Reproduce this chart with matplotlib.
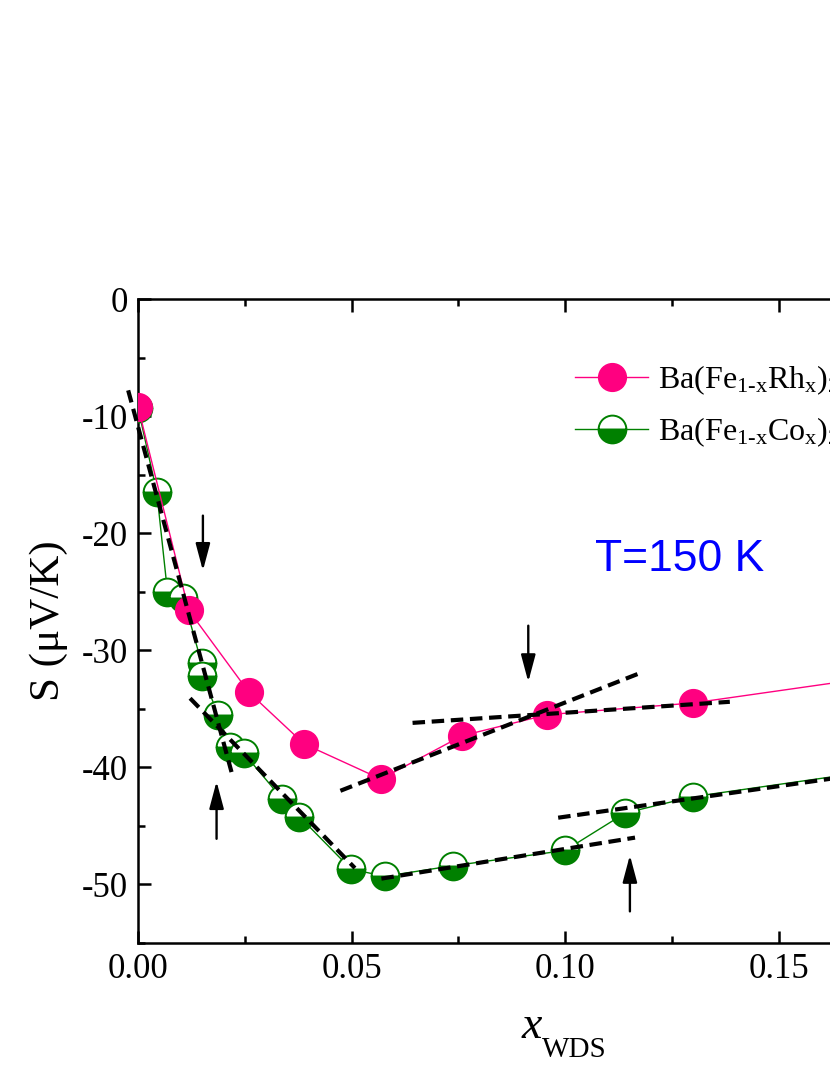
import matplotlib
matplotlib.use("Agg")
import matplotlib.pyplot as plt
from matplotlib.ticker import MultipleLocator, FormatStrFormatter

# Ba(Fe1-xRhx)2As2
x_rh = [0.0, 0.0119, 0.026, 0.0389, 0.0569, 0.0759, 0.0959, 0.130, 0.180]
s_rh = [-9.2, -26.6, -33.6, -38.0, -41.0, -37.3, -35.5, -34.5, -31.9]

# Ba(Fe1-xCox)2As2
x_co = [0.0, 0.0044, 0.0069, 0.0106, 0.0149, 0.0151, 0.0188, 0.0215, 0.0248,
        0.0338, 0.0378, 0.0499, 0.0578, 0.0738, 0.1000, 0.1141, 0.130, 0.180]
s_co = [-9.3, -16.5, -25.0, -25.5, -31.1, -32.2, -35.5, -38.3, -38.8,
        -42.7, -44.2, -48.7, -49.3, -48.4, -47.1, -43.9, -42.5, -39.9]

# dashed linear fits: (x start, x end), (S start, S end)
fit_x = [(-0.0023, 0.0219), (0.0122, 0.0508), (0.057, 0.1164),
         (0.0984, 0.2), (0.0474, 0.1179), (0.0643, 0.1386)]
fit_s = [(-7.8, -40.4), (-34.1, -48.6), (-49.5, -46.0),
         (-44.3, -39.0), (-42.0, -31.9), (-36.2, -34.4)]

# arrows marking the kinks
arrow_x = [0.0152, 0.0184, 0.0914, 0.1152]
arrow_from = [-18.5, -46.1, -27.9, -52.3]
arrow_to = [-23.2, -41.2, -32.7, -47.5]

label_rh = r'Ba(Fe$_{\mathregular{1\text{-}x}}$Rh$_{\mathregular{x}}$)$_{\mathregular{2}}$As$_{\mathregular{2}}$'
label_co = r'Ba(Fe$_{\mathregular{1\text{-}x}}$Co$_{\mathregular{x}}$)$_{\mathregular{2}}$As$_{\mathregular{2}}$'

PINK = '#FF0080'
GREEN = '#008000'

plt.rcParams['font.family'] = ['Liberation Serif', 'DejaVu Serif']
plt.rcParams['mathtext.fontset'] = 'custom'
plt.rcParams['mathtext.rm'] = 'Liberation Serif'
plt.rcParams['mathtext.it'] = 'Liberation Serif:italic'
plt.rcParams['axes.unicode_minus'] = False

fig = plt.figure(figsize=(8.3, 10.75), dpi=100)
ax = fig.add_axes([138 / 830, 1 - 943 / 1075, 854 / 830, 644 / 1075])

# Co series (under Rh)
h_co, = ax.plot(x_co, s_co, '-', color=GREEN, lw=1.0, marker='o', markersize=20,
                fillstyle='bottom', markerfacecolor=GREEN, markerfacecoloralt='white',
                markeredgecolor=GREEN, markeredgewidth=1.4, zorder=3, label=label_co)
# Rh series
h_rh, = ax.plot(x_rh, s_rh, '-', color=PINK, lw=1.0, marker='o', markersize=20,
                markerfacecolor=PINK, markeredgecolor=PINK, zorder=4, label=label_rh)

for xs, ss in zip(fit_x, fit_s):
    ax.plot(xs, ss, color='black', lw=3, ls=(0, (3, 1.6)),
            dash_capstyle='butt', zorder=5, clip_on=False)

for xa, s0, s1 in zip(arrow_x, arrow_from, arrow_to):
    ax.annotate('', xy=(xa, s1), xytext=(xa, s0),
                arrowprops=dict(arrowstyle='-|>,head_length=0.75,head_width=0.2',
                                color='black', lw=1.7, mutation_scale=22,
                                shrinkA=0, shrinkB=0), zorder=6)

ax.text(0.107, -23.2, 'T=150 K', color='blue', fontsize=32,
        fontfamily='Liberation Sans', va='baseline', ha='left')

ax.set_xlim(0, 0.2)
ax.set_ylim(-55, 0)
ax.xaxis.set_major_locator(MultipleLocator(0.05))
ax.xaxis.set_minor_locator(MultipleLocator(0.025))
ax.xaxis.set_major_formatter(FormatStrFormatter('%.2f'))
ax.yaxis.set_major_locator(MultipleLocator(10))
ax.yaxis.set_minor_locator(MultipleLocator(5))
ax.tick_params(which='both', direction='in', top=True, right=True, width=1.8)
ax.tick_params(which='major', length=9, labelsize=25, pad=7)
ax.tick_params(which='minor', length=5)
for sp in ax.spines.values():
    sp.set_linewidth(1.8)

# x label: italic x with a low WDS subscript
fig.text(522 / 830, 1 - 1038 / 1075, 'x', fontsize=33, fontstyle='italic',
         ha='left', va='baseline')
fig.text(542 / 830, 1 - 1057 / 1075, 'WDS', fontsize=21, ha='left', va='baseline')
ax.set_ylabel(u'S (\u03bcV/K)', fontsize=31, labelpad=10)

ax.legend(handles=[h_rh, h_co], loc='upper left',
          bbox_to_anchor=(575 / 830, 1 - 363 / 1075), bbox_transform=fig.transFigure,
          frameon=False, fontsize=23, numpoints=1, handlelength=2.3,
          handletextpad=0.3, labelspacing=0.58, borderpad=0, borderaxespad=0)

plt.savefig('out.png', dpi=100)
